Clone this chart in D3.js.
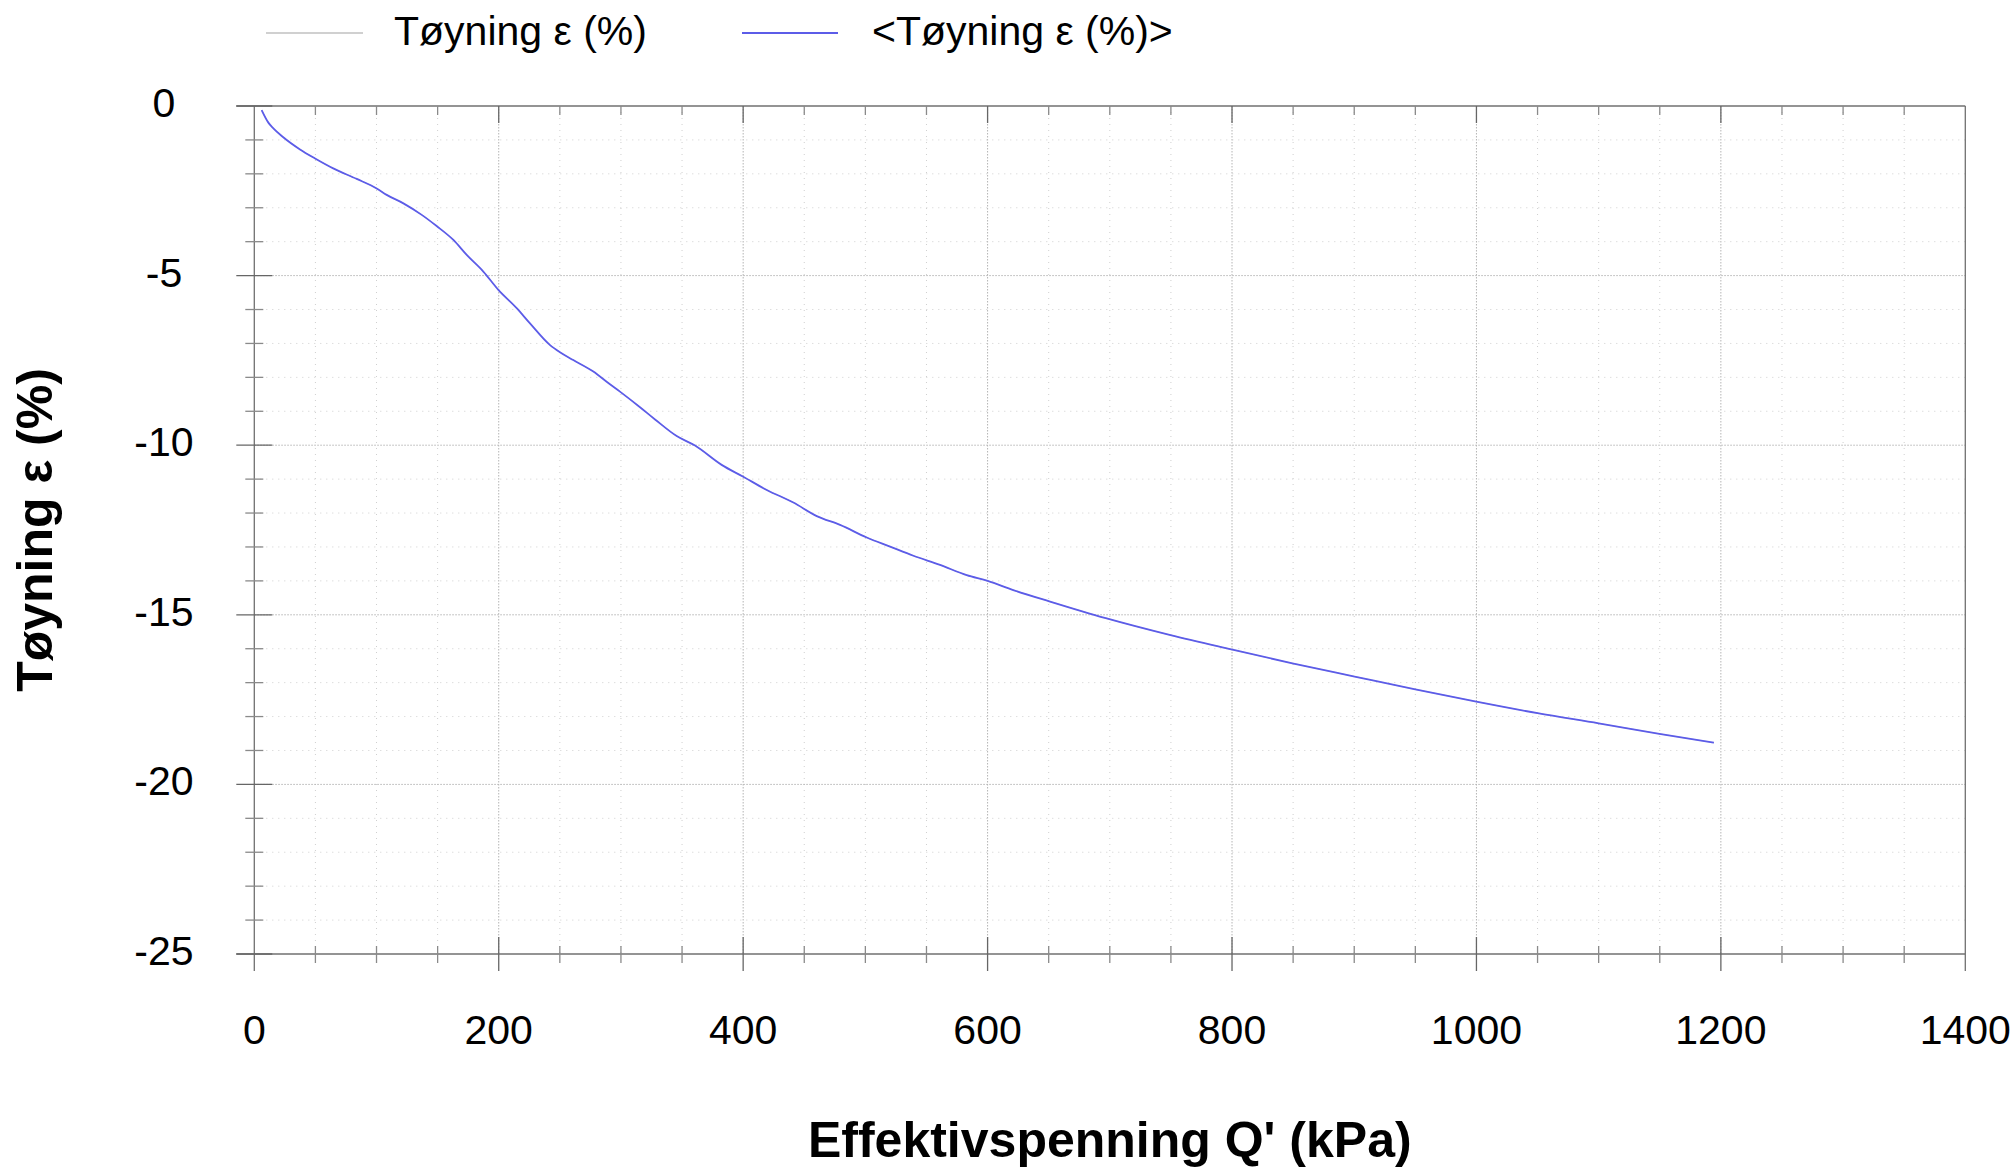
<!DOCTYPE html>
<html>
<head>
<meta charset="utf-8">
<script src="https://cdn.jsdelivr.net/npm/d3@7"></script>
<style>
  html, body { margin: 0; padding: 0; background: #fff; }
  svg { display: block; }
  text { font-family: "Liberation Sans", Arial, sans-serif; fill: #000; }
</style>
</head>
<body>
<script>
// ---- Data ----
const stress = [6.0, 11.5, 15.6, 23.7, 37.4, 49.4, 64.6, 83.8, 100.1, 108.3, 122, 137, 149.2, 162.9, 173.8, 187.4, 199.7, 214.7, 225.6, 242, 250.1, 261, 277.4, 288.3, 299.2, 315.6, 327.9, 345.6, 360.6, 382.4, 400.1, 419.3, 441.1, 460.2, 479.3, 501.1, 520.2, 539.3, 561.1, 582.9, 600.1, 621, 651.1, 696.7, 749.7, 799.4, 849.4, 900.3, 950, 999.9, 1050, 1100, 1149.7, 1194.3];
const strainAvg = [-0.12, -0.49, -0.66, -0.92, -1.28, -1.54, -1.84, -2.15, -2.43, -2.62, -2.87, -3.21, -3.54, -3.95, -4.39, -4.88, -5.42, -5.96, -6.41, -7.05, -7.26, -7.49, -7.83, -8.13, -8.42, -8.88, -9.24, -9.73, -10.01, -10.58, -10.93, -11.32, -11.69, -12.09, -12.35, -12.72, -12.99, -13.26, -13.53, -13.83, -14.0, -14.27, -14.61, -15.1, -15.6, -16.02, -16.43, -16.82, -17.2, -17.56, -17.9, -18.2, -18.51, -18.77];
const strainRaw = strainAvg.slice(); // raw series lies under the averaged one
const xTicks = [0, 200, 400, 600, 800, 1000, 1200, 1400];
const yTicks = [0, -5, -10, -15, -20, -25];
const seriesNames = ["Tøyning ε (%)", "<Tøyning ε (%)>"];
const xTitle = "Effektivspenning Q' (kPa)";
const yTitle = "Tøyning ε (%)";

// ---- Layout ----
const W = 2015, H = 1169;
const L = 254.3, R = 1965.3, T = 106, B = 954;

const svg = d3.select("body").append("svg").attr("width", W).attr("height", H);

const x = d3.scaleLinear().domain([0, 1400]).range([L, R]);
const y = d3.scaleLinear().domain([-25, 0]).range([B, T]);

const xMinor = d3.range(0, 1401, 50);
const yMinor = d3.range(-25, 0.1, 1);

// grid
const grid = svg.append("g");
grid.selectAll(".gx").data(xMinor.filter(v => v > 0 && v < 1400)).join("line")
  .attr("x1", d => x(d)).attr("x2", d => x(d)).attr("y1", T).attr("y2", B)
  .attr("stroke", d => d % 200 === 0 ? "#b4b4b4" : "#cfcfcf")
  .attr("stroke-width", 1)
  .attr("stroke-dasharray", d => d % 200 === 0 ? "1.5,1.5" : "1,5");
grid.selectAll(".gy").data(yMinor.filter(v => v > -25 && v < 0)).join("line")
  .attr("x1", L).attr("x2", R).attr("y1", d => y(d)).attr("y2", d => y(d))
  .attr("stroke", d => d % 5 === 0 ? "#b4b4b4" : "#cfcfcf")
  .attr("stroke-width", 1)
  .attr("stroke-dasharray", d => d % 5 === 0 ? "1.5,1.5" : "1,5");

// frame
const frame = svg.append("g").attr("stroke", "#707070").attr("stroke-width", 1.3).attr("fill", "none");
frame.append("line").attr("x1", L - 18).attr("x2", R).attr("y1", T).attr("y2", T);
frame.append("line").attr("x1", L - 18).attr("x2", R).attr("y1", B).attr("y2", B);
frame.append("line").attr("x1", L).attr("x2", L).attr("y1", T).attr("y2", B + 17);
frame.append("line").attr("x1", R).attr("x2", R).attr("y1", T).attr("y2", B + 17);

// y ticks (crossing left axis)
svg.append("g").selectAll("line").data(yMinor).join("line")
  .attr("x1", d => d % 5 === 0 ? L - 18 : L - 9)
  .attr("x2", d => d % 5 === 0 ? L + 18 : L + 9)
  .attr("y1", d => y(d)).attr("y2", d => y(d))
  .attr("stroke", d => d % 5 === 0 ? "#666" : "#8a8a8a").attr("stroke-width", 1.3);

// x ticks bottom (crossing) and top (inward)
svg.append("g").selectAll("line").data(xMinor.filter(v => v > 0 && v < 1400)).join("line")
  .attr("x1", d => x(d)).attr("x2", d => x(d))
  .attr("y1", d => d % 200 === 0 ? B - 17 : B - 8)
  .attr("y2", d => d % 200 === 0 ? B + 17 : B + 9)
  .attr("stroke", d => d % 200 === 0 ? "#666" : "#8a8a8a").attr("stroke-width", 1.3);
svg.append("g").selectAll("line").data(xMinor.filter(v => v > 0 && v < 1400)).join("line")
  .attr("x1", d => x(d)).attr("x2", d => x(d))
  .attr("y1", T)
  .attr("y2", d => d % 200 === 0 ? T + 17 : T + 9)
  .attr("stroke", d => d % 200 === 0 ? "#666" : "#8a8a8a").attr("stroke-width", 1.3);

// tick labels
svg.append("g").selectAll("text").data(yTicks).join("text")
  .attr("x", 164).attr("y", d => y(d) + 11)
  .attr("text-anchor", "middle").attr("font-size", 41)
  .text(d => String(d));
svg.append("g").selectAll("text").data(xTicks).join("text")
  .attr("x", d => x(d)).attr("y", 1044)
  .attr("text-anchor", "middle").attr("font-size", 41)
  .text(d => String(d));

// axis titles
svg.append("text").attr("x", (L + R) / 2).attr("y", 1157)
  .attr("text-anchor", "middle").attr("font-size", 50).attr("font-weight", "bold")
  .text(xTitle);
svg.append("text").attr("transform", `translate(52,${(T + B) / 2}) rotate(-90)`)
  .attr("text-anchor", "middle").attr("font-size", 50).attr("font-weight", "bold")
  .text(yTitle);

// lines
const line = d3.line().x(d => x(d[0])).y(d => y(d[1])).curve(d3.curveMonotoneX);
svg.append("path").datum(d3.zip(stress, strainRaw))
  .attr("d", line).attr("fill", "none").attr("stroke", "#d0d0d0").attr("stroke-width", 1);
svg.append("path").datum(d3.zip(stress, strainAvg))
  .attr("d", line).attr("fill", "none").attr("stroke", "#5c5ce8").attr("stroke-width", 1.8)
  .attr("stroke-linejoin", "round");

// legend
const legend = [
  { name: seriesNames[0], color: "#d0d0d0", x1: 266, x2: 363, tx: 394 },
  { name: seriesNames[1], color: "#5c5ce8", x1: 742, x2: 838, tx: 872 }
];
const lg = svg.append("g");
lg.selectAll("line").data(legend).join("line")
  .attr("x1", d => d.x1).attr("x2", d => d.x2).attr("y1", 33).attr("y2", 33)
  .attr("stroke", d => d.color).attr("stroke-width", 1.8);
lg.selectAll("text").data(legend).join("text")
  .attr("x", d => d.tx).attr("y", 45).attr("font-size", 41)
  .text(d => d.name);
</script>
</body>
</html>
